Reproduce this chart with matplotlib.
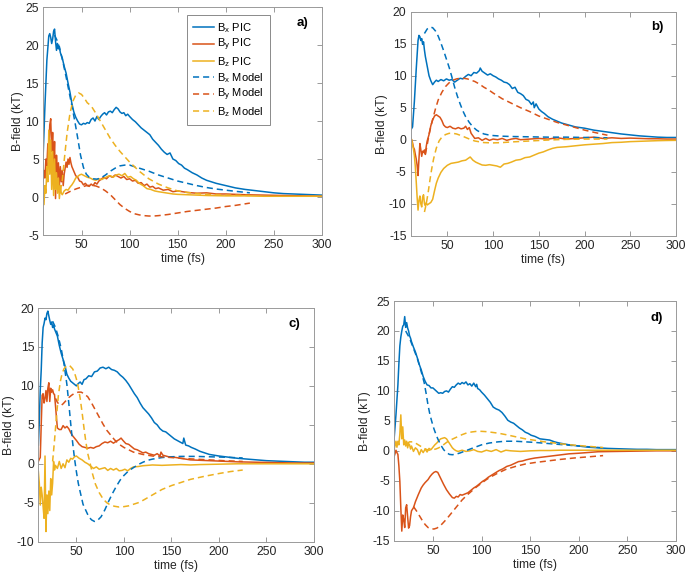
import numpy as np
import matplotlib
matplotlib.use('Agg')
import matplotlib.pyplot as plt

plt.rcParams['font.family'] = ['Liberation Sans', 'DejaVu Sans']
plt.rcParams['mathtext.fontset'] = 'custom'
plt.rcParams['mathtext.rm'] = 'Liberation Sans'
plt.rcParams['axes.unicode_minus'] = False

BLUE = '#0072BD'
RED = '#D95319'
YEL = '#EDB120'

# ---------------- panel a) ----------------
a_bx_pic_t = [10,12,14,16,17,18,19,20,21,22,23,24,25,26,27,28,30,32,34,36,38,40,42,44,46,48,50,52,54,56,
              58,60,62,64,66,68,70,72,74,76,78,80,82,84,86,88,90,92,94,96,98,100,103,106,109,112,115,118,121,124,
              127,130,133,136,139,142,145,148,151,154,157,160,165,170,175,180,190,200,210,220,230,240,250,260,270,280,290,300]
a_bx_pic = [5.0,12,18,21.2,21.5,21,20.2,20.8,21.8,22.1,20.5,19.3,20.2,19.5,19.8,19,18.3,17.2,16.3,15.0,
            13.8,12.3,11.2,10.5,10.0,9.6,9.5,9.7,9.6,9.8,9.7,10.2,10.4,10.0,10.6,10.2,10.6,10.9,11.1,10.8,
            11.2,11.3,11.1,11.5,11.8,11.6,11.2,11.0,11.1,10.7,10.9,10.6,10.2,9.9,9.5,9.1,8.8,8.5,8.2,7.6,
            7.2,6.8,6.3,5.9,5.6,5.8,5.0,4.8,4.4,4.2,3.8,3.6,3.2,2.9,2.5,2.2,1.8,1.5,1.2,1.0,
            0.85,0.7,0.55,0.45,0.4,0.35,0.3,0.25]
a_by_pic_t = [10,11,12,13,14,15,16,17,18,19,20,21,22,23,24,25,26,27,28,29,30,31,32,33,34,35,36,37,38,39,40,
              42,44,46,48,50,52,54,56,58,60,62,64,66,68,70,
              73,76,79,82,85,88,91,94,97,100,103,106,109,112,115,118,121,124,127,130,
              135,140,145,150,160,170,180,190,200,220,240,260,280,300]
a_by_pic = [2,3.5,2.5,5,4,7,6,9.5,10.3,6,8.5,4,7.3,-0.2,5.5,2.5,4.5,1.5,4.0,2.0,3.5,1.5,3.0,3.8,4.6,3.9,5.0,4.3,5.2,4.5,4.0,
            3.4,2.8,2.6,2.1,2.0,1.6,1.8,1.5,1.4,1.7,1.5,1.9,1.7,2.1,2.3,
            2.6,2.4,2.8,2.6,2.9,2.7,2.5,2.7,2.3,2.4,2.1,2.2,1.8,1.9,1.5,1.7,1.3,1.4,1.1,1.2,
            0.9,1.0,0.7,0.8,0.6,0.5,0.55,0.4,0.4,0.3,0.25,0.2,0.15,0.1]
a_bz_pic_t = [10,11,12,13,14,15,16,17,18,19,20,21,22,23,24,25,26,27,28,29,30,
              32,34,36,38,40,42,44,46,48,50,
              53,56,59,62,65,68,71,74,77,80,83,86,89,92,95,98,101,104,107,110,
              114,118,122,126,130,135,140,145,150,160,170,180,200,220,240,260,280,300]
a_bz_pic = [0.5,-1.0,1.5,0.5,4.0,2.0,8.8,3.0,7.5,1.0,6.0,0.2,5.0,1.0,3.2,0.5,2.5,-0.2,1.5,0.5,0.3,
            0.8,1.0,0.9,1.3,1.6,2.0,2.5,2.7,2.9,3.0,
            2.8,2.6,2.5,2.3,2.2,2.4,2.3,2.5,2.7,2.8,2.6,2.9,3.0,2.8,3.1,2.6,2.7,2.4,2.2,1.8,
            1.5,1.1,1.0,0.8,0.7,0.6,0.5,0.4,0.35,0.3,0.25,0.2,0.15,0.15,0.1,0.1,0.1,0.1]
a_bx_mod_t = [22,25,28,31,34,37,40,43,46,49,52,55,58,62,66,70,75,80,85,90,
              95,100,105,110,120,130,140,150,160,170,180,190,200,210,225]
a_bx_mod = [21.3,20.5,19.2,17.6,15.8,13.9,12.0,10.0,7.8,5.5,3.9,3.0,2.6,2.4,2.35,2.5,2.9,3.4,3.8,4.1,
            4.2,4.2,4.0,3.8,3.4,2.9,2.5,2.1,1.8,1.5,1.25,1.05,0.9,0.75,0.55]
a_by_mod_t = [33,36,40,45,50,55,60,65,70,75,80,85,90,95,100,105,110,115,120,125,
              130,140,150,160,170,180,190,200,210,225]
a_by_mod = [0.4,0.6,0.85,1.1,1.3,1.5,1.55,1.45,1.2,0.8,0.3,-0.35,-1.0,-1.5,-1.9,-2.2,-2.35,-2.45,-2.5,-2.5,
            -2.45,-2.3,-2.1,-1.9,-1.75,-1.6,-1.45,-1.25,-1.1,-0.8]
a_bz_mod_t = [28,30,32,35,38,41,44,47,50,53,56,60,65,70,75,80,85,90,95,100,
              105,110,120,130,140,150,160,170,180,200,225]
a_bz_mod = [0.8,2.2,4.8,8.4,11.0,12.6,13.4,13.7,13.5,13.0,12.4,12.0,11.0,9.9,8.8,7.7,6.8,6.0,5.3,4.6,
            4.0,3.4,2.4,1.7,1.2,0.8,0.6,0.45,0.35,0.25,0.2]

# ---------------- panel b) ----------------
b_bx_pic_t = [10,12,14,16,18,19,20,21,22,23,24,25,26,28,30,32,34,36,38,40,
              43,46,49,52,55,58,61,64,67,70,73,76,79,82,85,86,88,91,94,97,
              100,103,106,109,112,115,118,121,124,127,130,133,136,139,142,144,145,147,150,153,
              156,160,165,170,175,180,190,200,210,220,230,240,250,260,270,280,290,300]
b_bx_pic = [1.5,2.0,6.0,11.0,15.5,16.3,16.1,15.5,15.8,14.9,15.3,14.0,13.0,11.5,10.0,9.2,8.6,9.0,9.3,9.1,
            9.4,9.2,9.5,9.3,9.4,9.0,9.3,9.6,9.5,9.9,10.2,10.0,10.5,10.4,10.8,11.2,10.7,10.4,10.1,10.3,
            10.0,9.8,9.5,9.3,9.0,8.9,8.6,8.0,8.2,7.4,7.2,6.9,6.3,6.1,5.5,5.9,5.0,5.6,4.8,4.4,
            4.1,3.6,3.2,2.9,2.6,2.4,2.0,1.8,1.5,1.3,1.1,0.9,0.75,0.6,0.5,0.4,0.35,0.35]
b_by_pic_t = [10,11,12,13,14,15,16,17,18,19,20,21,22,23,24,25,26,27,28,
              30,32,34,36,38,40,42,44,46,48,50,53,56,59,62,65,68,70,72,74,76,78,80,
              84,88,92,96,100,105,110,115,120,125,130,
              140,150,160,170,180,190,200,210,220,230,240,250,260,270,280,290,300]
b_by_pic = [0.3,0.0,-0.5,-1.2,-1.5,-2.3,-3.0,-4.0,-5.6,-3.0,-0.6,-1.5,-2.6,-1.8,-2.0,-1.6,-2.3,-1.0,-0.2,
            0.8,2.2,3.1,3.7,3.9,3.7,3.5,3.0,2.3,2.0,1.9,2.1,1.8,1.7,1.9,1.7,1.8,2.1,1.6,1.9,1.0,0.6,0.2,
            0.3,-0.1,0.2,-0.1,0.1,0.0,0.2,-0.1,0.1,0.2,0.0,
            0.1,0.2,0.1,0.3,0.1,0.2,0.3,0.4,0.2,0.3,0.2,0.25,0.2,0.15,0.15,0.1,0.1]
b_bz_pic_t = [10,11,12,13,14,15,16,17,18,19,20,21,22,23,24,25,26,27,28,
              30,32,34,36,38,40,43,46,50,54,58,62,66,70,
              73,75,78,81,84,88,92,96,100,104,108,112,116,120,
              125,130,135,140,145,150,155,160,165,170,
              180,190,200,210,220,230,240,250,260,270,280,290,300]
b_bz_pic = [0.3,0.0,-0.8,-1.5,-2.5,-4.2,-6.5,-9.0,-11.0,-9.5,-8.8,-10.0,-10.5,-9.0,-8.6,-10.0,-10.3,-9.8,-10.2,
            -10.0,-9.8,-9.3,-8.0,-6.8,-6.0,-5.1,-4.5,-4.0,-3.7,-3.6,-3.5,-3.3,-3.2,
            -2.9,-2.7,-3.2,-3.5,-3.7,-3.95,-4.0,-3.9,-4.0,-4.1,-4.3,-3.8,-3.7,-3.5,
            -3.2,-3.1,-2.8,-2.7,-2.4,-2.1,-1.9,-1.6,-1.35,-1.2,
            -1.1,-0.95,-0.8,-0.7,-0.6,-0.45,-0.4,-0.3,-0.25,-0.2,-0.15,-0.12,-0.1]
b_bx_mod_t = [25,28,31,34,37,40,43,46,49,52,55,58,61,64,67,70,74,78,82,86,
              90,95,100,110,120,140,160,180,200,225]
b_bx_mod = [16.6,17.3,17.6,17.5,17.0,16.2,15.1,13.9,12.6,11.3,9.8,8.2,6.8,5.6,4.5,3.6,2.7,2.0,1.5,1.15,
            0.9,0.75,0.65,0.55,0.5,0.45,0.4,0.4,0.35,0.3]
b_by_mod_t = [26,28,30,32,34,37,40,44,48,52,56,60,64,68,72,76,80,85,90,95,
              100,110,120,130,140,150,160,170,180,190,200,212,225]
b_by_mod = [-2.2,-0.8,0.8,2.1,3.2,4.8,6.2,7.4,8.3,8.9,9.3,9.5,9.6,9.6,9.5,9.3,9.1,8.7,8.2,7.8,
            7.3,6.4,5.7,5.0,4.4,3.7,3.2,2.7,2.3,1.9,1.5,1.1,0.7]
b_bz_mod_t = [25,27,29,31,33,35,38,41,44,48,52,56,60,65,70,75,80,90,100,110,
              120,140,160,180,200,225]
b_bz_mod = [-11.3,-10.0,-8.3,-6.3,-4.5,-3.0,-1.3,-0.2,0.4,0.8,1.0,1.0,0.9,0.65,0.35,0.05,-0.2,-0.45,-0.5,-0.45,
            -0.35,-0.2,-0.05,0.05,0.1,0.1]

# ---------------- panel c) ----------------
c_bx_pic_t = [10,11,12,13,14,15,16,17,18,19,20,21,22,23,24,25,26,27,28,
              30,32,34,36,38,40,42,44,46,48,50,52,54,56,58,60,
              63,66,69,72,75,78,81,84,87,90,93,96,99,102,105,108,111,114,117,120,
              123,126,129,132,135,138,141,144,147,150,153,156,159,162,
              163,165,168,171,175,180,185,190,
              200,210,220,230,240,250,260,270,280,290,300]
c_bx_pic = [2.4,5.5,9.5,12.0,15.5,17.5,18.0,18.7,18.5,19.3,19.6,19.0,18.4,17.9,18.2,17.5,17.8,17.3,17.0,
            16.4,15.2,14.2,13.4,12.6,11.5,11.0,10.6,10.4,10.2,10.0,10.3,10.5,10.2,10.8,10.9,
            11.3,11.2,11.8,11.9,12.3,12.4,12.2,12.4,12.1,12.0,11.8,11.4,11.1,10.7,10.2,9.6,9.0,8.5,7.8,7.2,
            6.8,6.4,5.9,5.3,5.0,4.5,4.2,4.1,3.8,3.5,3.2,3.0,2.8,2.6,
            3.3,2.4,2.3,2.1,1.9,1.6,1.4,1.2,
            1.0,0.85,0.7,0.6,0.5,0.4,0.35,0.3,0.25,0.2,0.2]
c_by_pic_t = [10,11,12,13,14,15,16,17,18,19,20,21,22,23,24,25,26,27,28,29,30,
              32,34,36,38,40,42,44,46,48,50,
              53,56,59,62,65,68,71,74,77,80,83,86,89,92,95,97,99,
              102,105,108,111,114,117,120,123,126,129,132,135,138,
              139,141,144,147,150,155,160,165,170,180,190,200,220,240,260,280,300]
c_by_pic = [0.3,0.6,0.8,5.0,8.8,9.0,7.8,8.4,9.4,8.0,9.7,10.4,8.0,9.7,9.2,9.5,9.0,8.9,7.5,6.0,4.6,
            4.4,4.4,4.9,4.6,4.8,4.5,4.0,3.6,3.3,3.0,
            2.5,2.2,2.1,2.0,2.1,2.0,2.2,2.3,2.6,2.8,2.7,2.9,2.65,2.9,3.1,3.3,3.0,
            2.6,2.5,2.2,1.9,1.8,1.6,1.4,1.5,1.3,1.2,1.1,1.3,1.0,
            1.5,1.1,1.0,0.9,0.9,0.8,0.7,0.6,0.5,0.45,0.4,0.35,0.25,0.2,0.15,0.1,0.1]
c_bz_pic_t = [10,11,12,13,14,15,16,17,18,19,20,21,22,23,24,25,26,27,28,
              30,32,34,36,38,40,42,44,46,48,50,
              53,56,59,62,65,68,71,74,77,80,83,86,89,92,95,98,101,104,107,110,
              115,120,125,130,140,150,160,170,180,200,220,240,260,280,300]
c_bz_pic = [-1.0,-2.5,-5.3,-3.0,-4.0,-5.5,-7.0,1.0,-8.7,-4.0,-6.4,-3.5,-6.0,-1.9,-4.0,-2.5,0.3,-0.8,-0.2,
            -0.6,0.3,-0.6,0.0,-0.5,0.5,0.2,0.7,0.6,0.9,1.0,
            0.7,0.5,0.2,0.0,-0.3,-0.6,-0.4,-0.7,-0.6,-0.5,-0.85,-0.6,-0.8,-0.6,-0.9,-0.85,-0.7,-0.9,-0.6,-0.4,
            -0.35,-0.25,-0.2,-0.15,-0.2,-0.15,-0.1,-0.15,-0.1,-0.05,0.0,0.0,0.0,0.0,0.0]
c_bx_mod_t = [25,28,31,34,37,40,42,44,46,48,50,52,54,57,60,63,66,69,72,76,
              80,84,88,92,96,100,105,110,115,120,125,130,140,150,160,175,190,205,225]
c_bx_mod = [18.3,17.5,16.3,14.8,12.8,10.2,7.8,5.2,2.8,0.7,-1.0,-2.5,-3.6,-5.2,-6.0,-6.8,-7.2,-7.4,-7.3,-6.8,
            -5.9,-4.8,-3.8,-2.9,-2.1,-1.5,-0.9,-0.5,-0.1,0.2,0.45,0.6,0.8,0.9,0.95,0.95,0.9,0.85,0.75]
c_by_mod_t = [28,30,32,34,36,39,42,45,48,52,55,58,62,66,70,74,78,82,86,90,
              95,100,105,110,120,130,140,150,160,175,190,205,225]
c_by_mod = [8.4,7.9,7.6,7.5,7.7,8.1,8.5,8.8,9.05,9.2,9.2,9.0,8.6,7.8,6.9,6.0,5.1,4.3,3.7,3.1,
            2.5,2.1,1.8,1.5,1.2,1.0,0.9,0.8,0.7,0.6,0.5,0.4,0.3]
c_bz_mod_t = [25,27,29,31,33,35,37,40,43,46,48,50,52,54,56,58,60,62,64,67,
              70,74,78,82,86,90,95,100,105,110,115,120,130,140,150,160,170,185,200,212,225]
c_bz_mod = [0.3,3.0,6.0,8.7,10.5,11.6,12.2,12.6,12.6,12.2,11.7,10.9,9.8,8.4,6.6,4.6,2.8,1.3,0.3,-1.3,
            -2.6,-3.7,-4.5,-5.0,-5.3,-5.45,-5.55,-5.5,-5.4,-5.2,-5.0,-4.7,-4.0,-3.3,-2.8,-2.4,-2.0,-1.6,-1.25,-1.0,-0.8]

# ---------------- panel d) ----------------
d_bx_pic_t = [10,12,14,15,16,17,18,19,20,21,22,23,24,25,26,27,28,30,32,34,
              36,38,40,42,44,46,48,50,52,54,56,58,60,62,64,66,68,70,72,74,
              76,78,80,82,84,86,88,90,92,94,95,96,98,100,103,106,109,112,115,118,
              121,124,127,130,133,136,139,142,145,148,151,155,160,165,170,175,180,190,200,210,
              220,230,240,250,260,270,280,290,300]
d_bx_pic = [1.8,6.0,11.0,14.5,17.5,19.0,20.0,20.8,21.0,22.4,20.6,21.4,20.5,20.0,19.2,18.8,18.2,17.3,16.5,15.5,
            14.4,13.5,12.4,11.6,11.0,10.9,10.5,10.5,10.2,9.9,9.6,9.7,9.6,9.9,10.0,9.8,10.3,10.7,10.6,11.0,
            11.3,11.1,11.4,11.2,11.5,11.0,11.2,10.8,11.3,10.7,11.1,10.4,10.2,9.8,9.3,8.7,8.1,7.3,7.0,6.8,
            6.4,5.8,5.1,4.8,4.6,4.2,3.8,3.5,3.1,2.9,2.6,2.4,2.0,1.9,1.8,1.5,1.3,1.0,0.8,0.6,
            0.5,0.4,0.35,0.3,0.25,0.25,0.2,0.2,0.2]
d_by_pic_t = [10,11,12,13,14,15,16,17,18,19,20,21,22,23,24,25,26,27,28,
              30,32,35,38,40,42,45,47,49,51,53,55,58,61,64,67,70,72,74,76,
              78,80,83,86,89,92,95,98,101,104,107,110,114,118,122,126,130,134,138,142,
              146,150,155,160,170,180,190,200,220,240,260,280,300]
d_by_pic = [-1.0,-0.5,0.1,-0.3,-0.6,-2.5,-5.1,-9.5,-13.4,-10.7,-11.5,-12.8,-9.5,-9.0,-11.0,-12.9,-12.5,-11.0,-10.0,
            -9.5,-8.5,-7.3,-6.2,-5.7,-5.3,-4.8,-4.3,-3.9,-3.6,-3.45,-3.6,-4.6,-5.6,-6.5,-7.2,-7.8,-7.9,-7.6,-7.7,
            -7.3,-7.4,-7.2,-7.0,-6.6,-6.2,-5.9,-5.5,-5.1,-4.8,-4.4,-4.1,-3.7,-3.3,-3.0,-2.6,-2.4,-2.1,-1.8,-1.7,
            -1.5,-1.35,-1.2,-1.1,-0.9,-0.7,-0.5,-0.4,-0.15,-0.1,-0.05,0.0,0.0]
d_bz_pic_t = [10,11,12,13,14,15,16,17,18,19,20,21,22,23,24,25,26,27,28,
              30,32,34,36,38,40,42,44,46,48,50,52,54,56,58,60,62,64,66,68,70,72,74,76,
              80,84,88,92,96,100,105,110,115,120,125,130,
              140,150,160,170,180,200,220,240,260,280,300]
d_bz_pic = [0.2,0.8,1.6,0.6,1.6,1.0,2.8,6.0,2.0,4.0,1.0,1.8,0.8,1.6,0.5,1.2,1.0,0.3,0.8,
            -0.1,0.5,0.2,-0.65,0.2,-0.3,0.3,-0.2,0.4,0.2,0.6,1.0,1.3,1.7,2.0,2.1,2.2,2.0,1.5,1.0,0.5,0.2,0.0,-0.1,
            0.1,-0.1,0.0,0.2,-0.1,-0.2,0.1,-0.1,0.2,-0.2,0.1,0.0,
            -0.1,0.0,0.05,0.05,0.1,0.1,0.1,0.1,0.1,0.1,0.1]
d_bx_mod_t = [22,26,30,34,38,41,43,45,47,49,51,53,55,58,61,64,67,70,74,78,
              82,86,90,95,100,108,117,125,135,145,155,170,185,200,212,225]
d_bx_mod = [20.0,18.8,17.1,15.4,13.2,11.4,9.6,7.6,6.0,4.8,3.7,2.8,2.0,1.0,0.2,-0.3,-0.6,-0.65,-0.55,-0.35,
            -0.1,0.15,0.4,0.7,1.0,1.3,1.5,1.6,1.6,1.5,1.4,1.2,1.0,0.8,0.65,0.5]
d_by_mod_t = [30,33,36,39,42,45,48,51,54,57,60,64,68,72,76,80,85,90,95,100,
              105,110,117,125,135,145,155,165,180,195,210,225]
d_by_mod = [-9.3,-10.0,-10.8,-11.6,-12.3,-12.8,-13.0,-13.05,-12.9,-12.6,-12.1,-11.4,-10.6,-9.8,-9.0,-8.2,-7.4,-6.7,-6.0,-5.4,
            -4.8,-4.3,-3.7,-3.1,-2.6,-2.2,-1.95,-1.75,-1.45,-1.2,-1.0,-0.8]
d_bz_mod_t = [23,26,29,32,35,38,41,44,47,50,53,56,60,64,68,72,76,80,85,90,
              95,100,105,110,117,125,135,145,155,165,180,195,210,225]
d_bz_mod = [1.2,1.5,1.5,1.3,1.0,0.7,0.4,0.2,0.1,0.2,0.3,0.5,0.9,1.4,1.8,2.1,2.4,2.7,3.0,3.15,
            3.25,3.25,3.2,3.1,2.95,2.7,2.35,2.0,1.75,1.5,1.2,0.95,0.75,0.55]

LEGEND_LABELS = [r'B$_{\rm x}$ PIC', r'B$_{\rm y}$ PIC', r'B$_{\rm z}$ PIC',
                 r'B$_{\rm x}$ Model', r'B$_{\rm y}$ Model', r'B$_{\rm z}$ Model']


def draw_panel(ax, pic, mod, ylim, yticks, tag):
    colors = [BLUE, RED, YEL]
    for (t, v), c in zip(pic, colors):
        ax.plot(t, v, color=c, lw=1.1, solid_joinstyle='round')
    for (t, v), c in zip(mod, colors):
        ax.plot(t, v, color=c, lw=1.1, linestyle=(0, (4, 2.6)))
    ax.set_xlim(10, 300)
    ax.set_ylim(*ylim)
    ax.set_xticks([50, 100, 150, 200, 250, 300])
    ax.set_yticks(yticks)
    ax.tick_params(direction='in', top=True, right=True, length=3.5, width=0.6,
                   color='#8a8a8a', labelcolor='#262626', labelsize=8.7, pad=3)
    for s in ax.spines.values():
        s.set_color('#9a9a9a')
        s.set_linewidth(0.7)
    ax.set_xlabel('time (fs)', fontsize=8.7, color='#262626', labelpad=1.5)
    ax.set_ylabel('B-field (kT)', fontsize=8.7, color='#262626', labelpad=1)
    ax.text(0.93, 0.93, tag, transform=ax.transAxes, ha='center', va='center',
            fontsize=9.5, fontweight='bold')


fig = plt.figure(figsize=(6.85, 5.77), dpi=100)
ax_a = fig.add_axes([0.0628, 0.5927, 0.4073, 0.3951])
ax_b = fig.add_axes([0.5996, 0.5915, 0.3873, 0.3882])
ax_c = fig.add_axes([0.0560, 0.0612, 0.4024, 0.4050])
ax_d = fig.add_axes([0.5752, 0.0629, 0.4117, 0.4154])

draw_panel(ax_a, [(a_bx_pic_t, a_bx_pic), (a_by_pic_t, a_by_pic), (a_bz_pic_t, a_bz_pic)],
           [(a_bx_mod_t, a_bx_mod), (a_by_mod_t, a_by_mod), (a_bz_mod_t, a_bz_mod)],
           (-5, 25), [-5, 0, 5, 10, 15, 20, 25], 'a)')
draw_panel(ax_b, [(b_bx_pic_t, b_bx_pic), (b_by_pic_t, b_by_pic), (b_bz_pic_t, b_bz_pic)],
           [(b_bx_mod_t, b_bx_mod), (b_by_mod_t, b_by_mod), (b_bz_mod_t, b_bz_mod)],
           (-15, 20), [-15, -10, -5, 0, 5, 10, 15, 20], 'b)')
draw_panel(ax_c, [(c_bx_pic_t, c_bx_pic), (c_by_pic_t, c_by_pic), (c_bz_pic_t, c_bz_pic)],
           [(c_bx_mod_t, c_bx_mod), (c_by_mod_t, c_by_mod), (c_bz_mod_t, c_bz_mod)],
           (-10, 20), [-10, -5, 0, 5, 10, 15, 20], 'c)')
draw_panel(ax_d, [(d_bx_pic_t, d_bx_pic), (d_by_pic_t, d_by_pic), (d_bz_pic_t, d_bz_pic)],
           [(d_bx_mod_t, d_bx_mod), (d_by_mod_t, d_by_mod), (d_bz_mod_t, d_bz_mod)],
           (-15, 25), [-15, -10, -5, 0, 5, 10, 15, 20, 25], 'd)')

leg = ax_a.legend(ax_a.get_lines(), LEGEND_LABELS, loc='upper left',
                  bbox_to_anchor=(187 / 685, 1 - 15 / 577), bbox_transform=fig.transFigure,
                  borderaxespad=0, fontsize=8, handlelength=1.9, handletextpad=0.25,
                  labelspacing=0.18, borderpad=0.55, fancybox=False, framealpha=1)
leg.get_frame().set_edgecolor('#8a8a8a')
leg.get_frame().set_linewidth(0.7)

fig.savefig('out.png', dpi=100)
